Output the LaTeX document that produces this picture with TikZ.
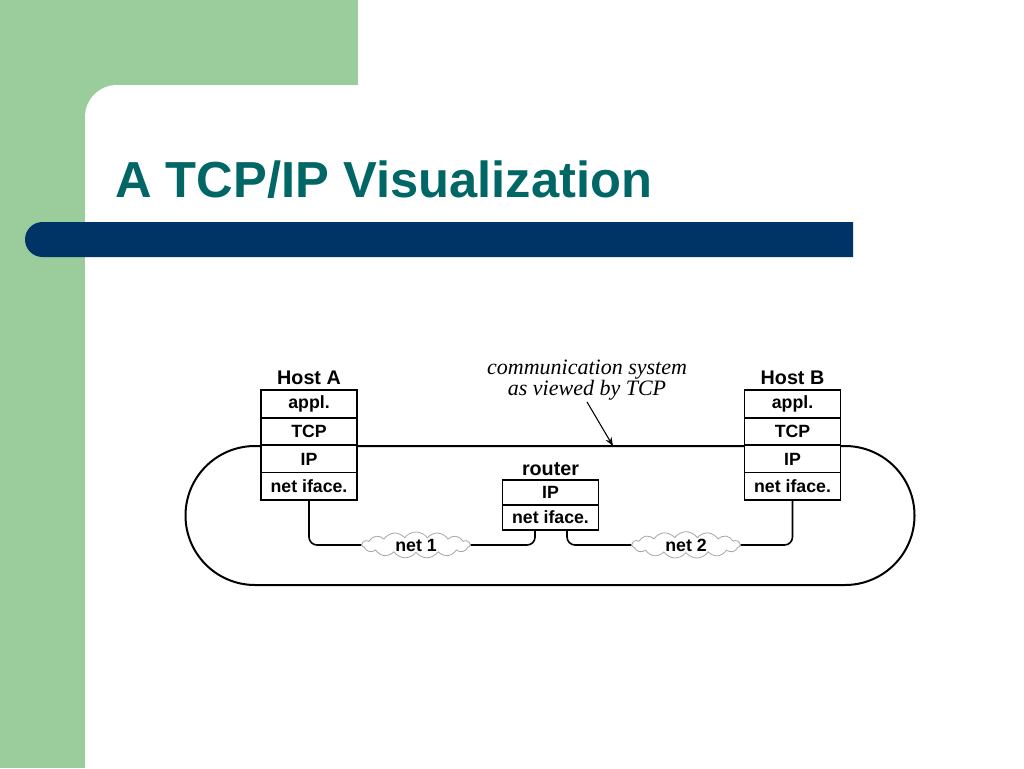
\documentclass[tikz,border=0pt]{standalone}
\usepackage{fontspec}
\setmainfont{Liberation Sans}
\newfontfamily\noteserif{Liberation Serif}
\usepackage{xcolor}
\usetikzlibrary{arrows.meta,positioning,shapes.symbols}
\definecolor{slidegreen}{RGB}{155,204,155}
\definecolor{barblue}{RGB}{0,51,102}
\definecolor{titleteal}{RGB}{0,102,102}

\begin{document}
\begin{tikzpicture}[x=0.75pt,y=-0.75pt,>=Stealth,
    layer/.style={draw,fill=white,line width=1.2pt,outer sep=0pt,inner sep=0pt,
      minimum width=72pt,minimum height=20.6pt,font=\bfseries\fontsize{13.3}{15}\selectfont},
    routerlayer/.style={layer,minimum height=18.75pt},
    hostname/.style={inner sep=0pt,font=\bfseries\fontsize{14.8}{16}\selectfont},
    netcloud/.style={cloud,cloud puffs=15,cloud puff arc=110,aspect=4.8,draw=black!35,fill=white,line width=0.6pt,
      minimum width=81pt,minimum height=18pt,inner sep=0pt,font=\bfseries\fontsize{13.3}{15}\selectfont},
    link/.style={line width=1.2pt,rounded corners=6pt}]
        \useasboundingbox (0,0) rectangle (1024,768);
        % slide background
        \fill[white] (0,0) rectangle (1024,768);
        \fill[slidegreen] (0,0) rectangle (358,85);
        \fill[slidegreen] (0,0) rectangle (125,125);
        \fill[slidegreen] (0,0) rectangle (85,768);
        \fill[white] (85,768) -- (85,117) arc[start angle=180,end angle=270,radius=32] -- (1024,85) -- (1024,768) -- cycle;
        \fill[barblue] (853,222) -- (42.5,222) arc[start angle=270,end angle=90,radius=17.5] -- (853,257) -- cycle;
        \node[anchor=base west,inner sep=0pt,text=titleteal,font=\bfseries\fontsize{38}{40}\selectfont] (slideTitle) at (115,197) {A TCP/IP Visualization};

        % communication system seen by TCP
        \draw[line width=1.5pt] (255,446) -- (845,446) arc[start angle=-90,end angle=90,radius=69.5]
          -- (255,585) arc[start angle=90,end angle=270,radius=69.5] -- cycle;

        \node[layer] (aAppl) at (309,404) {appl.};
        \node[layer,below=0pt of aAppl] (aTcp) {TCP};
        \node[layer,below=0pt of aTcp] (aIp) {IP};
        \node[layer,below=0pt of aIp] (aNet) {net iface.};
        \node[hostname,above=3.75pt of aAppl] (hostA) {Host A};

        \node[layer] (bAppl) at (792.5,404) {appl.};
        \node[layer,below=0pt of bAppl] (bTcp) {TCP};
        \node[layer,below=0pt of bTcp] (bIp) {IP};
        \node[layer,below=0pt of bIp] (bNet) {net iface.};
        \node[hostname,above=3.75pt of bAppl] (hostB) {Host B};

        \node[routerlayer] (rIp) at (550.5,492.5) {IP};
        \node[routerlayer,below=0pt of rIp] (rNet) {net iface.};
        \node[hostname,above=3pt of rIp] (router) {router};

        \node[netcloud] (net1) at (416,545) {net 1};
        \node[netcloud] (net2) at (686,545) {net 2};

        \draw[link] (aNet.south) |- (net1.west);
        \draw[link] (net1.east) -| ([xshift=-11.6pt]rNet.south);
        \draw[link] ([xshift=12.4pt]rNet.south) |- (net2.west);
        \draw[link] (net2.east) -| (bNet.south);

        \node[align=center,inner sep=1pt,font=\noteserif\itshape\fontsize{16.5}{14.5}\selectfont] (commNote) at (587,380) {communication system\\as viewed by TCP};
        \coordinate (commTip) at (613,446);
        \draw[->,line width=0.8pt] (commNote.south) -- (commTip);
      \end{tikzpicture}
\end{document}
